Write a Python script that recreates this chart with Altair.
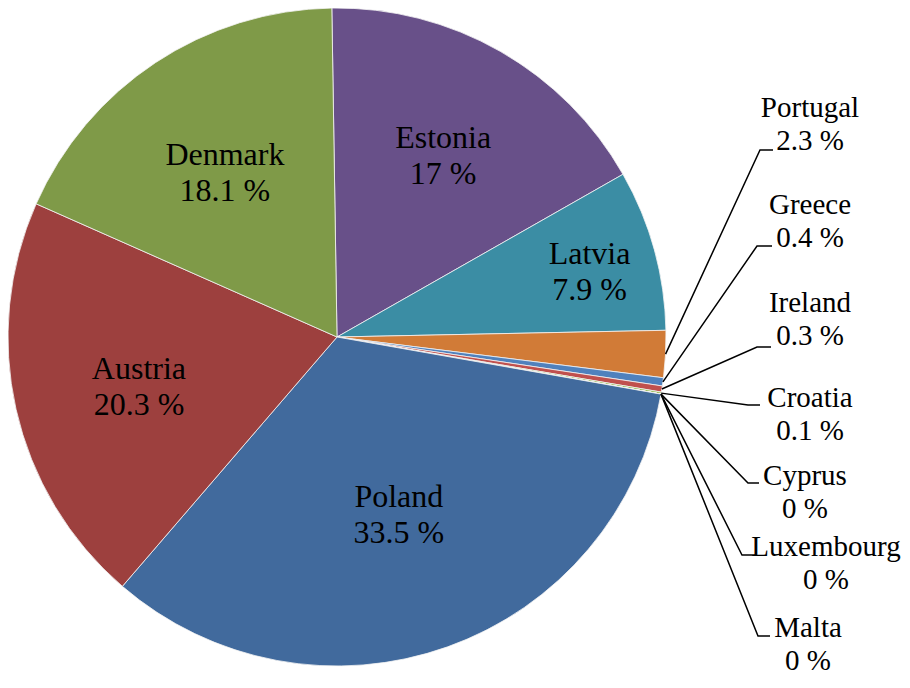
import math
import altair as alt
import pandas as pd

# ---- data (clockwise from 12 o'clock) ----
countries = ["Estonia", "Latvia", "Portugal", "Greece", "Ireland", "Croatia",
             "Cyprus", "Luxembourg", "Malta", "Poland", "Austria", "Denmark"]
shares = [17, 7.9, 2.3, 0.4, 0.3, 0.1, 0, 0, 0, 33.5, 20.3, 18.1]
colors = ["#685089", "#3B8DA4", "#D17B37", "#4F81BD", "#C0504D", "#9BBB59",
          "#8064A2", "#4BACC6", "#F79646", "#416A9D", "#9D403E", "#7F9A48"]

# ---- layout constants ----
CX, CY, R = 329, 329, 329
START = -0.0157  # slight rotation of the first slice
inside_radius = {"Estonia": 214, "Latvia": 262, "Poland": 184,
                 "Austria": 203, "Denmark": 203}
outside_labels = {  # label centre x, first-line centre y, bend x, end x, line y (view px)
    "Portugal":   (802, 100, 752, 765, 142),
    "Greece":     (802, 197, 749, 764, 238),
    "Ireland":    (802, 295, 749, 763, 339),
    "Croatia":    (802, 390, 740, 752, 397),
    "Cyprus":     (797, 468, 740, 751, 475),
    "Luxembourg": (818, 539, 734, 748, 547),
    "Malta":      (800, 620, 750, 762, 628),
}

def fmt(v):
    return f"{v:g} %"

total = sum(shares)
df = pd.DataFrame({
    "country": countries,
    "share": shares,
    "idx": list(range(len(countries))),
    "inlabel": [f"{c}\n{fmt(v)}" if c in inside_radius else "" for c, v in zip(countries, shares)],
    "lr": [inside_radius.get(c, 0) for c in countries],
})

cum = 0.0
mids = {}
for c, v in zip(countries, shares):
    mids[c] = START + 2 * math.pi * (cum + v / 2) / total
    cum += v

line_rows, text_rows = [], []
for c, (tx, ty, bx, ex, ly) in outside_labels.items():
    a = mids[c]
    sx, sy = CX + R * math.sin(a), CY - R * math.cos(a)
    for k, (px, py) in enumerate([(sx, sy), (bx, ly), (ex, ly)]):
        line_rows.append({"country": c, "k": k, "px": px, "py": py})
    text_rows.append({"country": c, "tx": tx, "ty": ty,
                      "label": f"{c}\n{fmt(shares[countries.index(c)])}"})
lines_df = pd.DataFrame(line_rows)
texts_df = pd.DataFrame(text_rows)

theta_scale = alt.Scale(domain=[0, total], range=[START, START + 2 * math.pi])

pie = alt.Chart(df).mark_arc(outerRadius=R, stroke="#f4f4f4", strokeWidth=0.8).encode(
    theta=alt.Theta("share:Q", stack=True, scale=theta_scale),
    color=alt.Color("country:N", scale=alt.Scale(domain=countries, range=colors), legend=None),
    order=alt.Order("idx:Q"),
    x=alt.value(CX),
    y=alt.value(CY),
)

inside = alt.Chart(df).transform_window(
    cum="sum(share)", sort=[alt.SortField("idx")], frame=[None, 0]
).transform_calculate(
    mid="datum.cum - datum.share / 2"
).transform_filter("datum.lr > 0").mark_text(
    font="Liberation Serif", fontSize=32, lineHeight=36, lineBreak="\n",
    color="black", align="center", baseline="middle", dy=-13,
).encode(
    theta=alt.Theta("mid:Q", stack=None, scale=theta_scale),
    radius=alt.Radius("lr:Q", scale=None),
    text="inlabel:N",
    x=alt.value(CX),
    y=alt.value(CY),
)

leaders = alt.Chart(lines_df).mark_line(color="black", strokeWidth=1.5).encode(
    x=alt.X("px:Q", scale=None),
    y=alt.Y("py:Q", scale=None),
    detail="country:N",
    order="k:Q",
)

outside = alt.Chart(texts_df).mark_text(
    font="Liberation Serif", fontSize=29, lineHeight=33, lineBreak="\n",
    color="black", align="center", baseline="middle",
).encode(
    x=alt.X("tx:Q", scale=None),
    y=alt.Y("ty:Q", scale=None),
    text="label:N",
)

chart = alt.layer(pie, inside, leaders, outside).properties(
    width=894, height=672, padding=0,
    autosize=alt.AutoSizeParams(type="none"),
).configure_view(stroke=None)

chart.save("out.html", embed_options={"renderer": "svg", "actions": False})
